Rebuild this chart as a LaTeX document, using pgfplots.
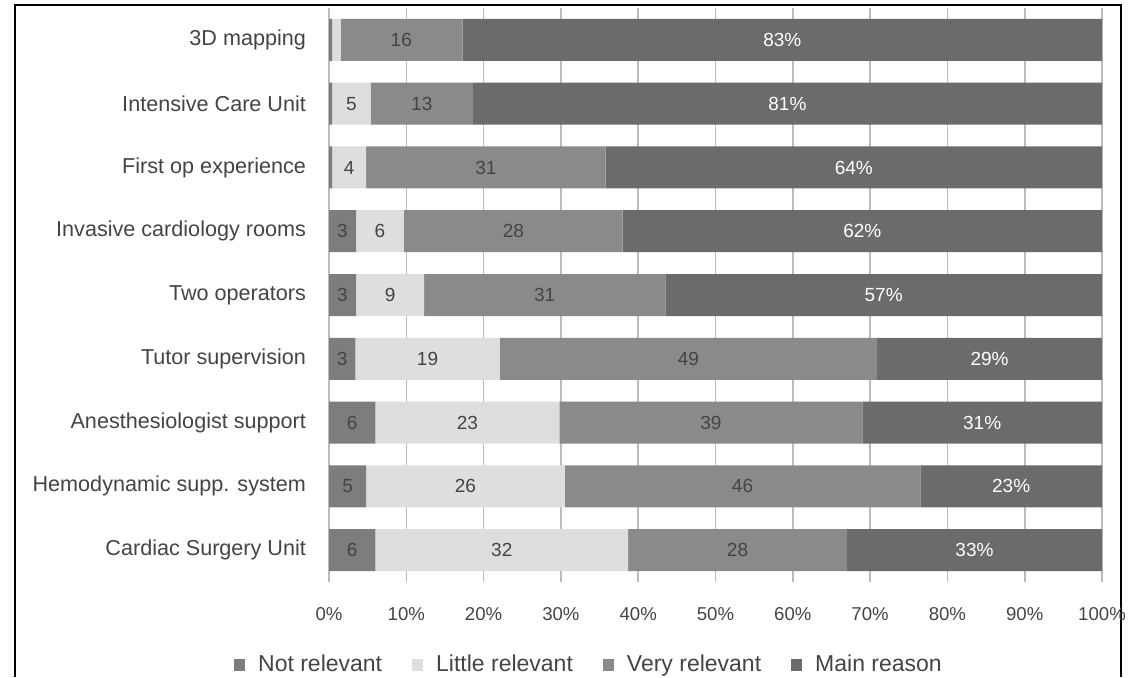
\documentclass[border=0pt]{standalone}
\usepackage{pgfplots}
\pgfplotsset{compat=1.18}
\usepackage{pgfplotstable}
\usepackage{fontspec}
\setmainfont{Liberation Sans}
\definecolor{cnot}{HTML}{7D7D7D}
\definecolor{clit}{HTML}{DEDEDE}
\definecolor{cvery}{HTML}{8A8A8A}
\definecolor{cmain}{HTML}{6B6B6B}
\definecolor{txt}{HTML}{444444}
\definecolor{gridc}{HTML}{BBBBBB}
\pgfplotstableread{
y   not  little very main
8   0.4  1.1   15.8 82.7
7   0.4  5.0   13.2 81.4
6   0.4  4.4   31.0 64.2
5   3.5  6.2   28.3 62.0
4   3.5  8.8   31.2 56.5
3   3.4  18.7  48.8 29.1
2   6.0  23.8  39.2 31.0
1   4.8  25.7  46.0 23.5
0   6.0  32.7  28.3 33.0
}\bars
\pgfplotstableread{
x     y  lab
9.35  8  16
2.9   7  5
12.0  7  13
2.6   6  4
20.3  6  31
1.75  5  3
6.6   5  6
23.85 5  28
1.75  4  3
7.9   4  9
27.9  4  31
1.7   3  3
12.75 3  19
46.5  3  49
3.0   2  6
17.9  2  23
49.4  2  39
2.4   1  5
17.65 1  26
53.5  1  46
3.0   0  6
22.35 0  32
52.85 0  28
}\darklabs
\pgfplotstableread{
x     y  lab
58.65 8  83\%
59.3  7  81\%
67.9  6  64\%
69.0  5  62\%
71.75 4  57\%
85.45 3  29\%
84.5  2  31\%
88.25 1  23\%
83.5  0  33\%
}\whitelabs
\begin{document}
\begin{tikzpicture}
\path[use as bounding box] (0,0) rectangle (564pt,-338.5pt);
\draw[black, line width=1pt] (7.5pt,-338.5pt) -- (7.5pt,-2.5pt) -- (560.5pt,-2.5pt) -- (560.5pt,-338.5pt);
\begin{axis}[
  at={(164.5pt,-291pt)}, anchor=south west,
  scale only axis, width=386.5pt, height=287pt,
  xbar stacked, bar width=21pt,
  xmin=0, xmax=100, ymin=-0.5, ymax=8.5,
  axis line style={draw=none},
  xmajorgrids, grid style={gridc, line width=0.8pt},
  xtick={0,10,...,100},
  xticklabel={\pgfmathprintnumber{\tick}\%},
  xticklabel style={font=\fontsize{9.3}{11}\selectfont, text=txt, yshift=-9pt},
  ytick={0,...,8},
  yticklabels={Cardiac Surgery Unit, Hemodynamic supp. system, Anesthesiologist support, Tutor supervision, Two operators, Invasive cardiology rooms, First op experience, Intensive Care Unit, 3D mapping},
  yticklabel style={font=\fontsize{10.8}{12}\selectfont, text=txt, xshift=-8pt},
  major tick length=0pt,
  /pgf/number format/assume math mode=true,
  legend columns=4,
  legend style={at={(0.3376,-0.1446)}, anchor=center, draw=none, fill=none,
    font=\fontsize{11.5}{13}\selectfont, text=txt,
    /tikz/every odd column/.append style={column sep=4.5pt},
    /tikz/every even column/.append style={column sep=13pt}},
  legend image code/.code={\path[#1, draw=none] (0pt,-3pt) rectangle (5.5pt,3pt);},
]
\addplot[fill=cnot, draw=none] table[x=not, y=y] {\bars};
\addplot[fill=clit, draw=none] table[x=little, y=y] {\bars};
\addplot[fill=cvery, draw=none] table[x=very, y=y] {\bars};
\addplot[fill=cmain, draw=none] table[x=main, y=y] {\bars};
\legend{Not relevant, Little relevant, Very relevant, Main reason}
\end{axis}
\begin{axis}[
  at={(164.5pt,-291pt)}, anchor=south west,
  scale only axis, width=386.5pt, height=287pt,
  xmin=0, xmax=100, ymin=-0.5, ymax=8.5,
  hide axis, clip=false,
]
\addplot[only marks, mark=none,
  point meta=explicit symbolic, nodes near coords,
  nodes near coords style={anchor=center, text=txt, font=\fontsize{9.5}{11}\selectfont}]
  table[x=x, y=y, meta=lab] {\darklabs};
\addplot[only marks, mark=none,
  point meta=explicit symbolic, nodes near coords,
  nodes near coords style={anchor=center, text=white, font=\fontsize{9.5}{11}\selectfont}]
  table[x=x, y=y, meta=lab] {\whitelabs};
\end{axis}
\end{tikzpicture}
\end{document}
